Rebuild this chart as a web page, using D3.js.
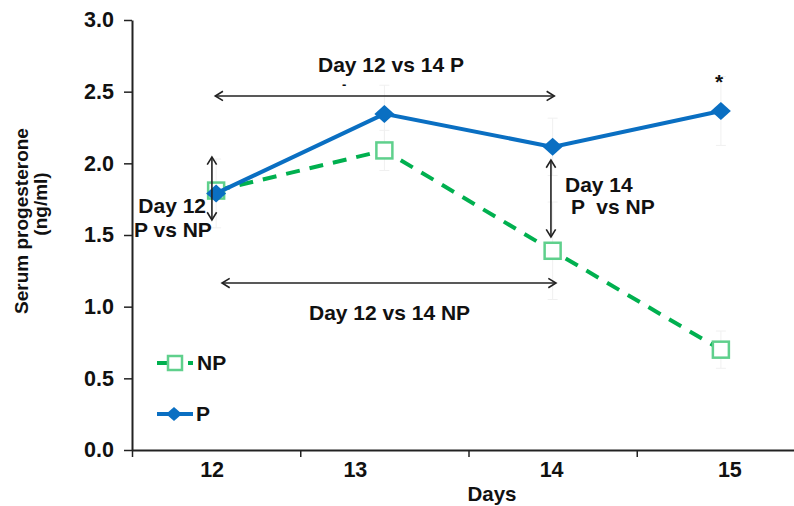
<!DOCTYPE html>
<html>
<head>
<meta charset="utf-8">
<script src="https://cdn.jsdelivr.net/npm/d3@7"></script>
<style>
  html, body { margin: 0; padding: 0; background: #fff; }
  svg { display: block; font-family: "Liberation Sans", Arial, sans-serif; font-weight: bold; }
  text { white-space: pre; }
</style>
</head>
<body>
<svg id="chart" width="794" height="506"></svg>
<script>
// ---- data ----
const days = [12, 13, 14, 15];
const dayLabels = ["12", "13", "14", "15"];
const pValues = [1.79, 2.345, 2.115, 2.365];
const pErr = [0.24, 0.2, 0.2, 0.24];
const npValues = [1.81, 2.09, 1.39, 0.70];
const npErr = [0.06, 0.14, 0.34, 0.13];
const yTicks = [0, 0.5, 1.0, 1.5, 2.0, 2.5, 3.0];
const seriesNames = ["NP", "P"];

// ---- layout / style ----
const blue = "#0a6fc2", green = "#00b04f", greenMarker = "#5fd08c";
const tickLabelNudge = [-4, -29, -1, 9];

const svg = d3.select("#chart");
const x = d3.scaleLinear().domain([11.5, 15.5]).range([132, 805]);
const y = d3.scaleLinear().domain([0, 3]).range([450, 20]);

// axes
const yAxis = svg.append("g").attr("transform", `translate(${x(11.5)},0)`)
  .call(d3.axisLeft(y).tickValues(yTicks).tickFormat(d3.format(".1f"))
    .tickSize(8).tickSizeOuter(0).tickPadding(10));
yAxis.select(".domain").attr("stroke", "#222").attr("stroke-width", 2);
yAxis.selectAll(".tick line").attr("stroke", "#222").attr("stroke-width", 1.5);
yAxis.selectAll(".tick text").attr("font-size", 21.5).attr("font-family", "Liberation Sans, Arial, sans-serif")
  .attr("font-weight", "bold").attr("fill", "#111");

const xAxis = svg.append("g").attr("transform", `translate(0,${y(0)})`)
  .call(d3.axisBottom(x).tickValues([11.5, 12.5, 13.5, 14.5]).tickFormat("")
    .tickSize(7).tickSizeOuter(0));
xAxis.select(".domain").attr("stroke", "#222").attr("stroke-width", 2);
xAxis.selectAll(".tick line").attr("stroke", "#222").attr("stroke-width", 1.5);

svg.append("g").selectAll("text").data(days).join("text")
  .attr("x", (d, i) => x(d) + tickLabelNudge[i])
  .attr("y", 477)
  .attr("text-anchor", "middle")
  .attr("font-size", 21.5).attr("fill", "#111")
  .text((d, i) => dayLabels[i]);

// axis titles
svg.append("text").attr("x", 492).attr("y", 501).attr("text-anchor", "middle")
  .attr("font-size", 20.5).attr("fill", "#111").text("Days");
svg.append("text").attr("transform", "translate(28,221) rotate(-90)").attr("text-anchor", "middle")
  .attr("font-size", 19).attr("fill", "#111").text("Serum progesterone");
svg.append("text").attr("transform", "translate(47,204) rotate(-90)").attr("text-anchor", "middle")
  .attr("font-size", 19).attr("fill", "#111").text("(ng/ml)");

// data
const pData = days.map((d, i) => ({ day: d, v: pValues[i], e: pErr[i] }));
const npData = days.map((d, i) => ({ day: d, v: npValues[i], e: npErr[i] }));

// error bars (very faint)
function errBars(data) {
  const g = svg.append("g").attr("stroke", "#f0f0f0").attr("stroke-width", 1);
  data.forEach(d => {
    g.append("line").attr("x1", x(d.day)).attr("x2", x(d.day)).attr("y1", y(d.v - d.e)).attr("y2", y(d.v + d.e));
    g.append("line").attr("x1", x(d.day) - 5).attr("x2", x(d.day) + 5).attr("y1", y(d.v - d.e)).attr("y2", y(d.v - d.e));
    g.append("line").attr("x1", x(d.day) - 5).attr("x2", x(d.day) + 5).attr("y1", y(d.v + d.e)).attr("y2", y(d.v + d.e));
  });
}
errBars(npData);
errBars(pData);

const line = d3.line().x(d => x(d.day)).y(d => y(d.v));

svg.append("path").datum(npData).attr("d", line).attr("fill", "none")
  .attr("stroke", green).attr("stroke-width", 4).attr("stroke-dasharray", "14,10");
svg.append("g").selectAll("rect").data(npData).join("rect")
  .attr("x", d => x(d.day) - 8).attr("y", d => y(d.v) - 8)
  .attr("width", 16).attr("height", 16)
  .attr("fill", "#fff").attr("stroke", greenMarker).attr("stroke-width", 2.5);

svg.append("path").datum(pData).attr("d", line).attr("fill", "none")
  .attr("stroke", blue).attr("stroke-width", 4);
const diamond = "M0,-9L10,0L0,9L-10,0Z";
svg.append("g").selectAll("path").data(pData).join("path")
  .attr("transform", d => `translate(${x(d.day)},${y(d.v)})`)
  .attr("d", diamond).attr("fill", blue);

// annotation arrows (in data coordinates)
const arrows = [
  { x1: 11.995, y1: 2.47, x2: 14.01, y2: 2.47 },
  { x1: 12.035, y1: 1.165, x2: 14.02, y2: 1.165 },
  { x1: 11.975, y1: 2.044, x2: 11.975, y2: 1.605 },
  { x1: 13.99, y1: 2.023, x2: 13.99, y2: 1.486 }
];
const ag = svg.append("g").attr("stroke", "#222").attr("stroke-width", 1.6).attr("fill", "none");
arrows.forEach(a => {
  const X1 = x(a.x1), Y1 = y(a.y1), X2 = x(a.x2), Y2 = y(a.y2);
  ag.append("line").attr("x1", X1).attr("y1", Y1).attr("x2", X2).attr("y2", Y2);
  const ang = Math.atan2(Y2 - Y1, X2 - X1);
  const head = (px, py, th) => {
    const L = 9, s = 0.55;
    const p1 = [px - L * Math.cos(th - s), py - L * Math.sin(th - s)];
    const p2 = [px - L * Math.cos(th + s), py - L * Math.sin(th + s)];
    ag.append("path").attr("d", `M${p1[0]},${p1[1]}L${px},${py}L${p2[0]},${p2[1]}`);
  };
  head(X2, Y2, ang);
  head(X1, Y1, ang + Math.PI);
});

// annotation text
const ann = svg.append("g").attr("font-size", 21).attr("fill", "#111");
ann.append("text").attr("x", 318).attr("y", 72).text("Day 12 vs 14 P");
ann.append("text").attr("x", 342).attr("y", 89).attr("font-size", 13).text("-");
ann.append("text").attr("x", 309).attr("y", 320).text("Day 12 vs 14 NP");
ann.append("text").attr("x", 206).attr("y", 213).attr("text-anchor", "end").text("Day 12");
ann.append("text").attr("x", 134).attr("y", 237).text("P vs NP");
ann.append("text").attr("x", 565).attr("y", 192).text("Day 14");
ann.append("text").attr("x", 571).attr("y", 214).text("P  vs NP");
ann.append("text").attr("x", 719).attr("y", 89).attr("text-anchor", "middle").text("*");

// legend
const lg = svg.append("g");
lg.append("line").attr("x1", 157).attr("x2", 193).attr("y1", 363).attr("y2", 363)
  .attr("stroke", green).attr("stroke-width", 4).attr("stroke-dasharray", "11,20,5");
lg.append("rect").attr("x", 168).attr("y", 356).attr("width", 14).attr("height", 14)
  .attr("fill", "#fff").attr("stroke", greenMarker).attr("stroke-width", 2.5);
lg.append("text").attr("x", 197).attr("y", 370).attr("font-size", 21).attr("fill", "#111").text(seriesNames[0]);
lg.append("line").attr("x1", 157).attr("x2", 193).attr("y1", 414).attr("y2", 414)
  .attr("stroke", blue).attr("stroke-width", 4);
lg.append("path").attr("transform", "translate(174,414)").attr("d", "M0,-7L8,0L0,7L-8,0Z").attr("fill", blue);
lg.append("text").attr("x", 196).attr("y", 421).attr("font-size", 21).attr("fill", "#111").text(seriesNames[1]);
</script>
</body>
</html>
